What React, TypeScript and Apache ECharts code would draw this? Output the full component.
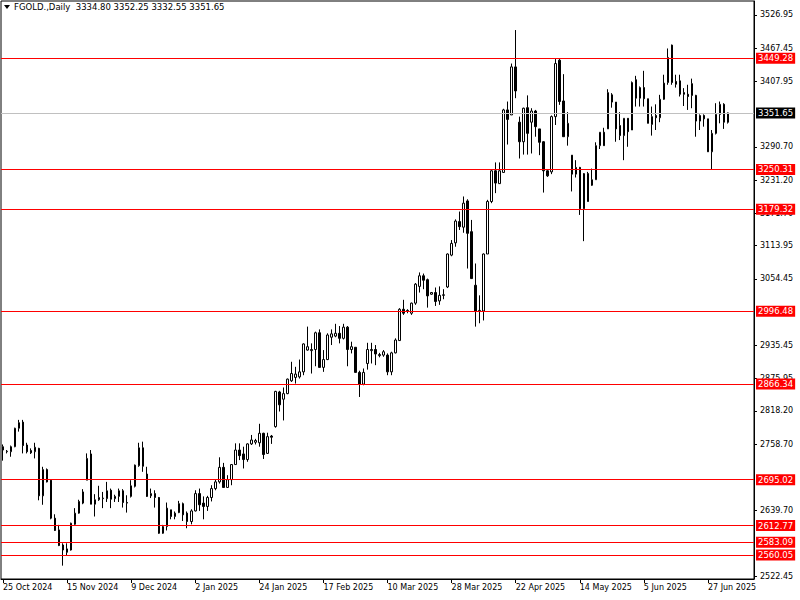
import { useEffect, useRef } from 'react';
import * as echarts from 'echarts';

const titleText = 'FGOLD.,Daily  3334.80 3352.25 3332.55 3351.65';
const dateTicks = ['25 Oct 2024', '15 Nov 2024', '9 Dec 2024', '2 Jan 2025', '24 Jan 2025', '17 Feb 2025', '10 Mar 2025', '28 Mar 2025', '22 Apr 2025', '14 May 2025', '5 Jun 2025', '27 Jun 2025'];
const barsPerDateTick = 16;
const emptyBarsRight = 6;
const priceTicks = [3526.95, 3467.45, 3407.95, 3290.7, 3231.2, 3171.7, 3113.95, 3054.45, 2935.45, 2875.95, 2818.2, 2758.7, 2639.7, 2522.45];
const levels = [3449.28, 3250.31, 3179.32, 2996.48, 2866.34, 2695.02, 2612.77, 2583.09, 2560.05];
const lastPrice = 3351.65;
const yMin = 2517.1;
const yMax = 3552.0;

// [open, high, low, close]
const candles: number[][] = [
  [2748, 2758, 2729, 2754], [2745, 2748, 2742, 2746], [2745, 2756, 2736, 2754], [2754, 2788, 2753, 2787],
  [2787, 2802, 2781, 2797], [2798, 2802, 2742, 2756], [2757, 2761, 2742, 2745], [2747, 2751, 2741, 2743],
  [2745, 2761, 2733, 2753], [2751, 2752, 2658, 2666], [2666, 2718, 2650, 2713], [2713, 2715, 2690, 2691],
  [2694, 2695, 2624, 2626], [2626, 2633, 2603, 2604], [2605, 2614, 2576, 2577], [2578, 2581, 2541, 2569],
  [2571, 2581, 2560, 2565], [2569, 2618, 2568, 2617], [2615, 2644, 2614, 2635], [2635, 2659, 2634, 2656],
  [2653, 2678, 2651, 2673], [2694, 2742, 2694, 2733], [2741, 2748, 2651, 2651], [2651, 2669, 2629, 2659],
  [2659, 2684, 2657, 2663], [2661, 2673, 2644, 2662], [2661, 2691, 2655, 2675], [2676, 2679, 2644, 2660],
  [2661, 2668, 2655, 2665], [2665, 2679, 2655, 2675], [2675, 2678, 2645, 2654], [2654, 2667, 2636, 2653],
  [2665, 2694, 2663, 2684], [2683, 2722, 2681, 2721], [2720, 2761, 2718, 2752], [2752, 2763, 2709, 2719],
  [2705, 2718, 2664, 2665], [2666, 2679, 2662, 2670], [2670, 2676, 2645, 2663], [2663, 2664, 2598, 2599],
  [2599, 2614, 2598, 2611], [2611, 2654, 2604, 2644], [2641, 2641, 2624, 2629], [2629, 2638, 2624, 2635],
  [2636, 2657, 2635, 2652], [2652, 2654, 2621, 2632], [2635, 2638, 2608, 2620], [2620, 2642, 2615, 2639],
  [2639, 2676, 2638, 2670], [2670, 2679, 2639, 2650], [2653, 2665, 2624, 2647], [2647, 2666, 2639, 2663],
  [2663, 2685, 2656, 2679], [2679, 2695, 2676, 2691], [2691, 2735, 2688, 2717], [2717, 2725, 2681, 2681],
  [2681, 2703, 2681, 2695], [2695, 2723, 2685, 2722], [2722, 2760, 2722, 2748], [2748, 2760, 2730, 2738],
  [2741, 2754, 2715, 2731], [2731, 2760, 2727, 2759], [2759, 2775, 2757, 2766], [2762, 2768, 2758, 2765],
  [2761, 2795, 2754, 2778], [2778, 2779, 2732, 2740], [2742, 2779, 2741, 2772], [2773, 2775, 2759, 2771],
  [2790, 2854, 2788, 2853], [2852, 2854, 2817, 2829], [2839, 2860, 2801, 2849], [2849, 2876, 2848, 2875],
  [2872, 2906, 2870, 2885], [2878, 2897, 2867, 2884], [2879, 2910, 2876, 2888], [2888, 2939, 2882, 2938],
  [2927, 2969, 2926, 2933], [2926, 2939, 2885, 2928], [2928, 2960, 2898, 2958], [2958, 2964, 2896, 2896],
  [2896, 2927, 2888, 2910], [2910, 2957, 2909, 2954], [2950, 2964, 2936, 2956], [2952, 2974, 2950, 2957],
  [2957, 2970, 2939, 2948], [2948, 2974, 2946, 2968], [2968, 2970, 2898, 2928], [2928, 2942, 2921, 2933],
  [2932, 2932, 2887, 2887], [2887, 2890, 2843, 2866], [2866, 2894, 2864, 2887], [2903, 2940, 2892, 2928],
  [2926, 2940, 2903, 2928], [2928, 2936, 2900, 2920], [2917, 2922, 2914, 2919], [2918, 2927, 2915, 2924],
  [2918, 2921, 2882, 2888], [2888, 2924, 2882, 2922], [2922, 2948, 2921, 2945], [2944, 3002, 2944, 3000],
  [3000, 3017, 2990, 2993], [2997, 3000, 2993, 2998], [2993, 3012, 2990, 3011], [3011, 3047, 3008, 3045],
  [3041, 3066, 3030, 3060], [3060, 3064, 3036, 3052], [3053, 3055, 3003, 3024], [3027, 3031, 3026, 3030],
  [3030, 3039, 3006, 3014], [3015, 3041, 3008, 3025], [3025, 3036, 3018, 3026], [3040, 3100, 3038, 3099],
  [3097, 3124, 3095, 3118], [3119, 3161, 3112, 3158], [3157, 3175, 3142, 3148], [3147, 3202, 3137, 3190],
  [3194, 3197, 3073, 3136], [3139, 3160, 3055, 3055], [3043, 3082, 2969, 2996], [2996, 3025, 2975, 2998],
  [2997, 3100, 2980, 3099], [3099, 3196, 3099, 3193], [3193, 3249, 3190, 3248], [3248, 3263, 3208, 3226],
  [3225, 3263, 3225, 3248], [3245, 3359, 3245, 3357], [3357, 3372, 3295, 3340], [3348, 3440, 3348, 3434],
  [3434, 3500, 3378, 3391], [3335, 3345, 3270, 3300], [3300, 3361, 3277, 3360], [3361, 3383, 3277, 3315],
  [3335, 3360, 3279, 3355], [3355, 3357, 3309, 3327], [3323, 3323, 3276, 3299], [3300, 3301, 3209, 3248],
  [3248, 3249, 3237, 3239], [3246, 3347, 3242, 3345], [3345, 3448, 3330, 3440], [3446, 3448, 3366, 3372],
  [3373, 3421, 3309, 3309], [3309, 3353, 3293, 3333], [3276, 3276, 3211, 3242], [3242, 3267, 3236, 3254],
  [3254, 3255, 3169, 3180], [3180, 3244, 3122, 3243], [3243, 3246, 3193, 3193], [3222, 3252, 3221, 3232],
  [3232, 3299, 3232, 3293], [3293, 3317, 3287, 3317], [3317, 3325, 3293, 3293], [3323, 3394, 3323, 3388],
  [3384, 3387, 3361, 3371], [3371, 3371, 3300, 3323], [3329, 3353, 3303, 3311], [3311, 3342, 3267, 3342],
  [3342, 3342, 3291, 3318], [3321, 3408, 3321, 3406], [3411, 3418, 3363, 3378], [3378, 3399, 3363, 3397],
  [3397, 3427, 3363, 3377], [3377, 3377, 3333, 3333], [3331, 3363, 3311, 3345], [3347, 3367, 3321, 3343],
  [3343, 3384, 3335, 3376], [3376, 3420, 3375, 3405], [3406, 3467, 3402, 3451], [3473, 3474, 3402, 3406],
  [3408, 3420, 3397, 3403], [3409, 3420, 3381, 3385], [3388, 3396, 3364, 3385], [3385, 3402, 3357, 3381],
  [3404, 3413, 3360, 3383], [3383, 3384, 3309, 3337], [3337, 3349, 3321, 3347], [3347, 3349, 3327, 3341],
  [3341, 3341, 3282, 3282], [3282, 3321, 3251, 3315], [3315, 3369, 3313, 3349], [3349, 3372, 3333, 3367],
  [3367, 3369, 3323, 3335], [3334.8, 3352.25, 3332.55, 3351.65],
];

const FONT = 'DejaVu Sans';

export default function App() {
  const ref = useRef<HTMLDivElement>(null);
  useEffect(() => {
    if (!ref.current) return;
    const chart = echarts.init(ref.current, undefined, { renderer: 'svg' });
    const categories = Array.from({ length: candles.length + emptyBarsRight }, (_, i) => String(i));
    const levelLabel = (bg: string) => ({
      show: true,
      position: 'end' as const,
      distance: 2,
      formatter: (p: any) => Number(p.value).toFixed(2),
      backgroundColor: bg,
      color: '#ffffff',
      fontFamily: FONT,
      fontSize: 8.5,
      lineHeight: 10,
      padding: [1, 2, 0, 2],
    });
    chart.setOption({
      animation: false,
      backgroundColor: '#ffffff',
      grid: { left: 1, top: 1, width: 753, height: 578, show: true, borderColor: '#000000', borderWidth: 1, backgroundColor: 'transparent' },
      xAxis: {
        type: 'category',
        data: categories,
        boundaryGap: true,
        axisLine: { show: true, lineStyle: { color: '#000000', width: 1 } },
        axisTick: { show: true, interval: barsPerDateTick - 1, alignWithLabel: true, length: 4, lineStyle: { color: '#000000' } },
        axisLabel: {
          interval: barsPerDateTick - 1,
          formatter: (v: string) => {
            const i = Number(v);
            return i % barsPerDateTick === 0 ? dateTicks[i / barsPerDateTick] ?? '' : '';
          },
          align: 'left',
          margin: 4,
          fontFamily: FONT,
          fontSize: 8,
          color: '#000000',
        },
        splitLine: { show: false },
      },
      yAxis: {
        type: 'value',
        position: 'right',
        min: yMin,
        max: yMax,
        axisLine: { show: true, lineStyle: { color: '#000000', width: 1 } },
        axisTick: { show: true, length: 3, customValues: priceTicks, lineStyle: { color: '#000000' } },
        axisLabel: {
          customValues: priceTicks,
          formatter: (v: number) => v.toFixed(2),
          margin: 6,
          fontFamily: FONT,
          fontSize: 8,
          color: '#000000',
        },
        splitLine: { show: false },
      },
      graphic: [
        { type: 'polygon', shape: { points: [[4, 5], [10, 5], [7, 9]] }, style: { fill: '#000000' } },
        { type: 'text', x: 14, y: 7, style: { text: titleText, fontFamily: FONT, fontSize: 8.5, fill: '#000000', verticalAlign: 'middle' } },
      ],
      series: [
        {
          type: 'candlestick',
          data: candles.map(([o, h, l, c]) => [o, c, l, h]),
          barWidth: 2,
          itemStyle: { color: '#ffffff', color0: '#000000', borderColor: '#000000', borderColor0: '#000000', borderWidth: 1 },
          markLine: {
            symbol: 'none',
            silent: true,
            animation: false,
            data: [
              { yAxis: lastPrice, lineStyle: { color: '#c0c0c0', width: 1, type: 'solid' }, label: levelLabel('#000000') },
              ...levels.map((v) => ({ yAxis: v, lineStyle: { color: '#ff0000', width: 1, type: 'solid' }, label: levelLabel('#ff0000') })),
            ],
          },
        },
      ],
    });
    return () => chart.dispose();
  }, []);
  return <div ref={ref} style={{ position: 'fixed', left: 0, top: 0, width: 800, height: 600 }} />;
}
